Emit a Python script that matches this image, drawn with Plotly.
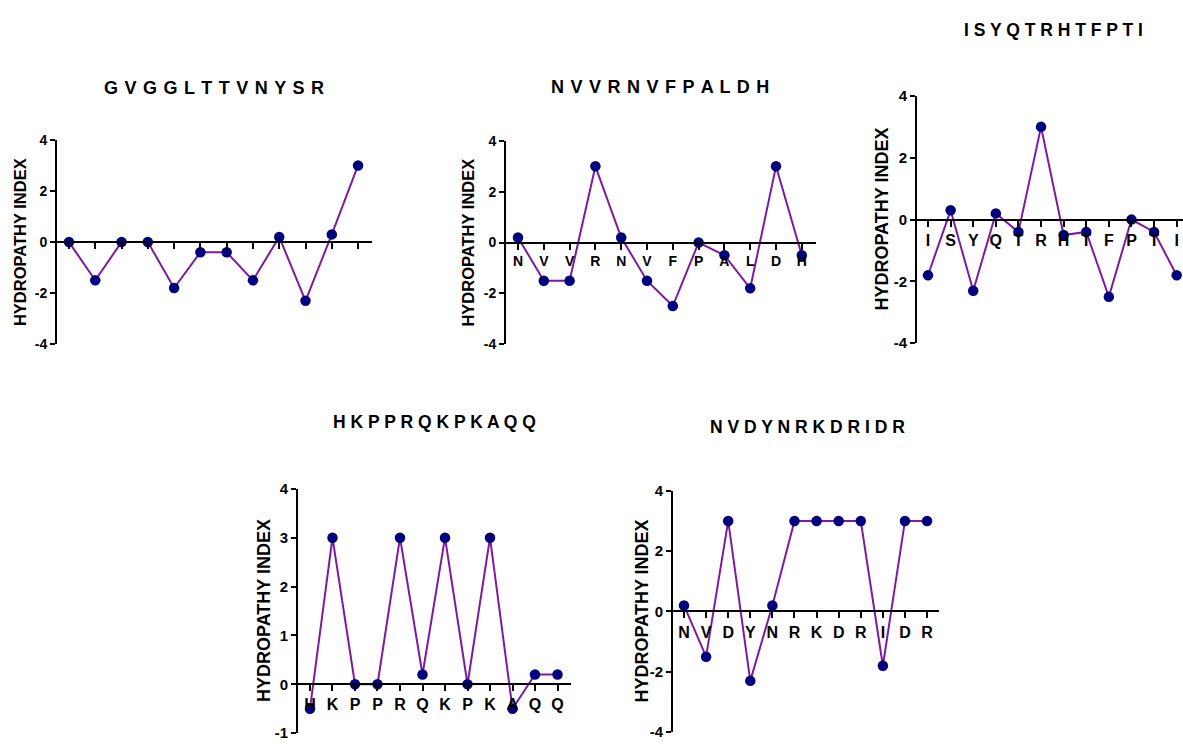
import plotly.graph_objects as go

W, H = 1183, 746

# ---- data ----
titles = ["GVGGLTTVNYSR", "NVVRNVFPALDH", "ISYQTRHTFPTI", "HKPPRQKPKAQQ", "NVDYNRKDRIDR"]
residues_1 = list("GVGGLTTVNYSR")
residues_2 = list("NVVRNVFPALDH")
residues_3 = list("ISYQTRHTFPTI")
residues_4 = list("HKPPRQKPKAQQ")
residues_5 = list("NVDYNRKDRIDR")
hydro_1 = [0, -1.5, 0, 0, -1.8, -0.4, -0.4, -1.5, 0.2, -2.3, 0.3, 3]
hydro_2 = [0.2, -1.5, -1.5, 3, 0.2, -1.5, -2.5, 0, -0.5, -1.8, 3, -0.5]
hydro_3 = [-1.8, 0.3, -2.3, 0.2, -0.4, 3, -0.5, -0.4, -2.5, 0, -0.4, -1.8]
hydro_4 = [-0.5, 3, 0, 0, 3, 0.2, 3, 0, 3, -0.5, 0.2, 0.2]
hydro_5 = [0.2, -1.5, 3, -2.3, 0.2, 3, 3, 3, 3, -1.8, 3, 3]
show_xlabels = [False, True, True, True, True]
y_ticks_a = [-4, -2, 0, 2, 4]
y_ticks_b = [-1, 0, 1, 2, 3, 4]
y_ticks = [y_ticks_a, y_ticks_a, y_ticks_a, y_ticks_b, y_ticks_a]
y_title = "HYDROPATHY INDEX"

# ---- layout geometry (pixels) ----
panels = [
    dict(xd=(57, 372), yd=(134, 343), xr=(-0.456, 11.53), title_xy=(214, 81), ytitle_x=20, big=False),
    dict(xd=(506, 816), yd=(135, 343), xr=(-0.465, 11.55), title_xy=(660, 80), ytitle_x=468, big=False),
    dict(xd=(917, 1183), yd=(89, 342), xr=(-0.487, 11.28), title_xy=(1053, 22), ytitle_x=882, big=True),
    dict(xd=(298, 571), yd=(491, 741), xr=(-0.533, 11.6), title_xy=(435, 423), ytitle_x=264, big=True),
    dict(xd=(673, 939), yd=(493, 740), xr=(-0.498, 11.54), title_xy=(807, 428), ytitle_x=642, big=True),
]

residues = [residues_1, residues_2, residues_3, residues_4, residues_5]
values = [hydro_1, hydro_2, hydro_3, hydro_4, hydro_5]

FONT = "Liberation Sans, Arial, sans-serif"
LINE = "#7D1AA0"
MARK = "#00007F"


def fmt(v):
    return str(v)  # plain hyphen minus like the reference


fig = go.Figure()
layout = dict(
    width=W, height=H,
    margin=dict(l=0, r=0, t=0, b=0),
    paper_bgcolor="white", plot_bgcolor="white",
    showlegend=False,
    annotations=[],
)

for i, (p, res, vals) in enumerate(zip(panels, residues, values)):
    n = i + 1
    xs = list(range(len(res)))
    xa = "x" if n == 1 else f"x{n}"
    ya = "y" if n == 1 else f"y{n}"
    big = p["big"]
    tsize = 15 if big else 14
    fig.add_trace(go.Scatter(
        x=xs, y=vals, xaxis=xa, yaxis=ya, mode="lines+markers",
        line=dict(color=LINE, width=2),
        marker=dict(color=MARK, size=10.5),
        cliponaxis=False,
    ))
    xdom = [p["xd"][0] / W, min(1.0, p["xd"][1] / W)]
    ydom = [1 - p["yd"][1] / H, 1 - p["yd"][0] / H]
    yt = y_ticks[i]
    ymin, ymax = yt[0], yt[-1]
    zero_pos = ydom[0] + (0 - ymin) / (ymax - ymin) * (ydom[1] - ydom[0])
    xkey = "xaxis" if n == 1 else f"xaxis{n}"
    ykey = "yaxis" if n == 1 else f"yaxis{n}"
    layout[xkey] = dict(
        domain=xdom, range=list(p["xr"]), anchor="free", position=zero_pos,
        showline=True, linecolor="black", linewidth=2,
        ticks="outside", ticklen=6, tickwidth=2, tickcolor="black",
        tickvals=xs, ticktext=res if show_xlabels[i] else [""] * len(res),
        showgrid=False, zeroline=False,
        tickfont=dict(family=FONT, size=tsize + (1 if big else 0), color="black", weight="bold"),
    )
    layout[ykey] = dict(
        domain=ydom, range=[ymin, ymax], anchor=xa,
        showline=True, linecolor="black", linewidth=2,
        ticks="outside", ticklen=5, tickwidth=2, tickcolor="black",
        tickvals=yt, ticktext=[fmt(v) for v in yt],
        showgrid=False, zeroline=False,
        tickfont=dict(family=FONT, size=tsize, color="black", weight="bold"),
    )
    tx, ty = p["title_xy"]
    if big:
        ttext = " ".join(titles[i])
    else:
        ttext = " \u200a".join(titles[i])
    layout["annotations"].append(dict(
        text="<b>" + ttext + "</b>",
        x=tx / W, y=1 - ty / H, xref="paper", yref="paper",
        xanchor="center", yanchor="middle", showarrow=False,
        font=dict(family=FONT, size=18 if not big else 17.5, color="black"),
    ))
    layout["annotations"].append(dict(
        text="<b>" + y_title + "</b>",
        x=p["ytitle_x"] / W, y=(ydom[0] + ydom[1]) / 2, xref="paper", yref="paper",
        xanchor="center", yanchor="middle", showarrow=False, textangle=-90,
        font=dict(family=FONT, size=18 if big else 16.5, color="black"),
    ))

fig.update_layout(**layout)
fig.write_html(
    "out.html",
    config={"displayModeBar": False},
    post_script="document.body.style.margin='0';document.body.style.overflow='hidden';",
)
